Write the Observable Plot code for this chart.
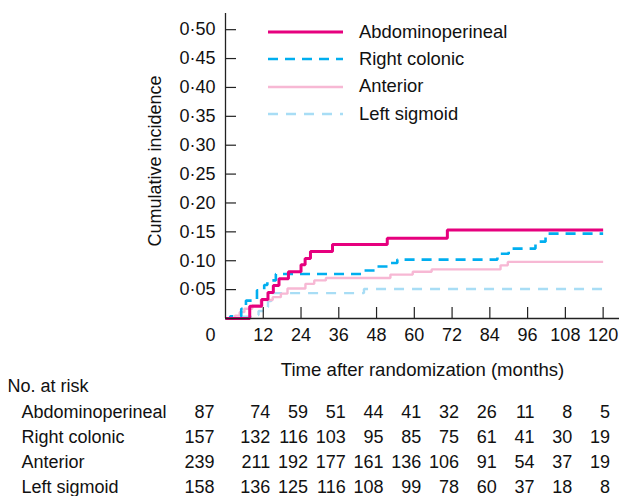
<!DOCTYPE html>
<html>
<head>
<meta charset="utf-8">
<script src="https://cdn.jsdelivr.net/npm/d3@7"></script>
<script src="https://cdn.jsdelivr.net/npm/@observablehq/plot@0.6"></script>
<style>
  body { margin: 0; background: #fff; }
  #chart { position: relative; width: 619px; height: 496px; font-family: "Liberation Sans", Arial, sans-serif; color: #111; background: #fff; }
  #chart svg { display: block; overflow: visible; }
  #legend { position: absolute; left: 268px; top: 18.7px; font-size: 18.4px; line-height: 1; }
  #legend .row { display: flex; align-items: center; height: 27.2px; white-space: nowrap; }
  #legend .row svg { margin-right: 16px; }
</style>
</head>
<body>
<div id="chart"><div id="legend"></div></div>
<script>
// ---- Data ----
const seriesNames = ["Abdominoperineal", "Right colonic", "Anterior", "Left sigmoid"];

const abdominoperinealTime  = [0, 7.7, 11.5, 13.5, 15.2, 17, 20, 24, 25.3, 27, 34, 51.4, 70.5, 120];
const abdominoperinealValue = [0, 0.021, 0.033, 0.045, 0.057, 0.069, 0.081, 0.093, 0.104, 0.116, 0.128, 0.139, 0.153, 0.153];

const rightColonicTime  = [0, 1.5, 5, 6.5, 10, 12.3, 13.3, 16, 43.5, 48.2, 52, 54.6, 86.4, 90, 98.5, 101.7, 120];
const rightColonicValue = [0, 0.004, 0.017, 0.031, 0.049, 0.058, 0.066, 0.077, 0.083, 0.090, 0.096, 0.102, 0.112, 0.121, 0.133, 0.147, 0.147];

const anteriorTime  = [0, 3, 4.5, 6, 8.5, 11.2, 15, 17.6, 19.7, 25.4, 28.2, 31.9, 52.4, 59.5, 65.5, 87.4, 89.7, 120];
const anteriorValue = [0, 0.005, 0.011, 0.017, 0.023, 0.032, 0.037, 0.043, 0.052, 0.060, 0.066, 0.070, 0.076, 0.081, 0.085, 0.092, 0.098, 0.098];

const leftSigmoidTime  = [0, 4, 8, 10.5, 12.5, 13.5, 14.5, 44, 120];
const leftSigmoidValue = [0, 0.003, 0.006, 0.013, 0.020, 0.030, 0.044, 0.051, 0.051];

const xTicks = [12, 24, 36, 48, 60, 72, 84, 96, 108, 120];
const yTicks = [0.05, 0.10, 0.15, 0.20, 0.25, 0.30, 0.35, 0.40, 0.45, 0.50];

const riskMonths = [0, 12, 24, 36, 48, 60, 72, 84, 96, 108, 120];
const atRiskAbdominoperineal = [87, 74, 59, 51, 44, 41, 32, 26, 11, 8, 5];
const atRiskRightColonic     = [157, 132, 116, 103, 95, 85, 75, 61, 41, 30, 19];
const atRiskAnterior         = [239, 211, 192, 177, 161, 136, 106, 91, 54, 37, 19];
const atRiskLeftSigmoid      = [158, 136, 125, 116, 108, 99, 78, 60, 37, 18, 8];

// ---- Styles ----
const styles = {
  "Abdominoperineal": {stroke: "#E6007E", strokeWidth: 3, dash: null},
  "Right colonic":    {stroke: "#00AEEF", strokeWidth: 2.6, dash: "10,7"},
  "Anterior":         {stroke: "#F7B8D4", strokeWidth: 2.4, dash: null},
  "Left sigmoid":     {stroke: "#A8DDF5", strokeWidth: 2.4, dash: "10,8"}
};

const toPoints = (times, values) => times.map((t, i) => ({t, v: values[i]}));
const curves = {
  "Abdominoperineal": toPoints(abdominoperinealTime, abdominoperinealValue),
  "Right colonic": toPoints(rightColonicTime, rightColonicValue),
  "Anterior": toPoints(anteriorTime, anteriorValue),
  "Left sigmoid": toPoints(leftSigmoidTime, leftSigmoidValue)
};
const atRisk = {
  "Abdominoperineal": atRiskAbdominoperineal,
  "Right colonic": atRiskRightColonic,
  "Anterior": atRiskAnterior,
  "Left sigmoid": atRiskLeftSigmoid
};
const riskRows = seriesNames.flatMap(g => riskMonths.map((m, i) => ({group: g, month: m, n: atRisk[g][i]})));

const font = '"Liberation Sans", Arial, sans-serif';
const xDomain = [0, 125.2];
const fmt = d => d.toFixed(2).replace(".", "\u00B7");

const drawOrder = ["Left sigmoid", "Anterior", "Right colonic", "Abdominoperineal"];

const main = Plot.plot({
  width: 619, height: 380,
  marginLeft: 225, marginRight: 0, marginTop: 13, marginBottom: 62,
  style: {fontFamily: font, fontSize: "18px", color: "#111", background: "transparent", overflow: "visible"},
  x: {domain: xDomain},
  y: {domain: [0, 0.528]},
  marks: [
    ...drawOrder.map(g => Plot.line(curves[g], {
      x: "t", y: "v", curve: "step-after",
      stroke: styles[g].stroke, strokeWidth: styles[g].strokeWidth,
      strokeDasharray: styles[g].dash, strokeLinejoin: "miter", strokeLinecap: "butt"
    })),
    Plot.ruleY([0], {stroke: "#222", strokeWidth: 1.3}),
    Plot.ruleX([0], {stroke: "#222", strokeWidth: 1.3}),
    Plot.axisX(xTicks, {tickSize: -11, tickPadding: 21, strokeWidth: 1.2, label: null, stroke: "#222"}),
    Plot.axisX([0], {tickSize: 0, tickPadding: 10, dx: -15, label: null}),
    Plot.axisY(yTicks, {tickSize: -11, tickPadding: 21, tickFormat: fmt, strokeWidth: 1.2, label: null, stroke: "#222"}),
    Plot.text(["Cumulative incidence"], {frameAnchor: "left", textAnchor: "middle", lineAnchor: "middle", rotate: -90, dx: -70, dy: -5, fill: "#111", fontSize: 18}),
    Plot.text(["Time after randomization (months)"], {frameAnchor: "bottom", lineAnchor: "middle", dy: 52, fill: "#111", fontSize: 18.6})
  ]
});

const table = Plot.plot({
  width: 619, height: 116,
  marginLeft: 225, marginRight: 0, marginTop: 30.5, marginBottom: 8.3,
  style: {fontFamily: font, fontSize: "18px", color: "#111", background: "transparent", overflow: "visible"},
  x: {domain: xDomain, axis: null},
  y: {domain: seriesNames, type: "point", padding: 0, axis: null},
  marks: [
    Plot.text(["No. at risk"], {frameAnchor: "top-left", textAnchor: "start", lineAnchor: "middle", dx: -218, dy: -24.5, fill: "#111"}),
    Plot.text(seriesNames, {y: d => d, frameAnchor: "left", textAnchor: "start", dx: -204, fill: "#111"}),
    Plot.text(riskRows.filter(d => d.month === 0), {x: "month", y: "group", text: "n", textAnchor: "end", dx: -11, fill: "#111"}),
    Plot.text(riskRows.filter(d => d.month > 0), {x: "month", y: "group", text: "n", textAnchor: "end", dx: 7, fill: "#111"})
  ]
});

const chart = document.getElementById("chart");
chart.insertBefore(main, chart.firstChild);
chart.insertBefore(table, document.getElementById("legend"));

// Legend
const legend = document.getElementById("legend");
for (const g of seriesNames) {
  const s = styles[g];
  const row = document.createElement("div");
  row.className = "row";
  row.innerHTML = `<svg width="75" height="6"><line x1="0" x2="75" y1="3" y2="3" stroke="${s.stroke}" stroke-width="${s.strokeWidth}" ${s.dash ? `stroke-dasharray="${s.dash}"` : ""}/></svg><span>${g}</span>`;
  legend.appendChild(row);
}
</script>
</body>
</html>
